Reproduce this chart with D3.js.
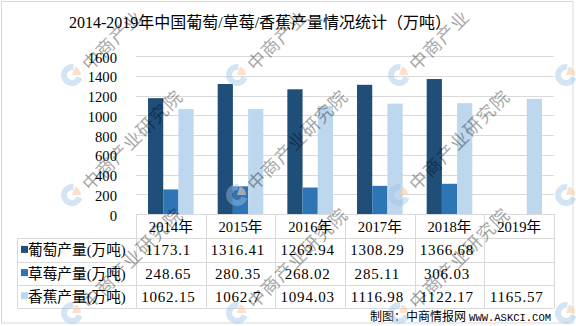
<!DOCTYPE html>
<html>
<head>
<meta charset="utf-8">
<script src="https://cdn.jsdelivr.net/npm/d3@7/dist/d3.min.js"></script>
<style>
  html, body { margin: 0; padding: 0; background: #fff; }
  svg { display: block; }
  text { font-family: "Liberation Serif", "Noto Sans CJK SC", serif; fill: #000; }
</style>
</head>
<body>
<svg id="chart" width="576" height="326"></svg>
<script>
// Production data, 10k tonnes
const years = ["2014年", "2015年", "2016年", "2017年", "2018年", "2019年"];
const seriesNames = ["葡萄产量(万吨)", "草莓产量(万吨)", "香蕉产量(万吨)"];
const grapeValues = [1173.1, 1316.41, 1262.94, 1308.29, 1366.68, null];
const strawberryValues = [248.65, 280.35, 268.02, 285.11, 306.03, null];
const bananaValues = [1062.15, 1062.7, 1094.03, 1116.98, 1122.17, 1165.57];
const grapeLabels = ["1173.1", "1316.41", "1262.94", "1308.29", "1366.68", ""];
const strawberryLabels = ["248.65", "280.35", "268.02", "285.11", "306.03", ""];
const bananaLabels = ["1062.15", "1062.7", "1094.03", "1116.98", "1122.17", "1165.57"];
const yTicks = [0, 200, 400, 600, 800, 1000, 1200, 1400, 1600];
const colors = ["#1f4e79", "#2e75b6", "#bdd7ee"];

const seriesValues = [grapeValues, strawberryValues, bananaValues];
const seriesLabels = [grapeLabels, strawberryLabels, bananaLabels];

const W = 576, H = 326;
const svg = d3.select("#chart");
const plotLeft = 136, plotRight = 554, plotTop = 56, plotBottom = 214;
const tableLeft = 17, rowH = 23.2;
const headerBottom = 238.3;

// outer frame
svg.append("rect").attr("x", 1.5).attr("y", 1.5).attr("width", 571.5).attr("height", 321.5)
  .attr("fill", "#fff").attr("stroke", "#d9d9d9");

// title
svg.append("text").attr("x", 260).attr("y", 28).attr("text-anchor", "middle")
  .style("font-size", "16px").text("2014-2019年中国葡萄/草莓/香蕉产量情况统计（万吨）");

const x0 = d3.scaleBand().domain(years).range([plotLeft, plotRight]).padding(0);
const x1 = d3.scaleBand().domain(d3.range(3)).range([0, x0.bandwidth()])
  .paddingInner(0).paddingOuter(0.79);
const y = d3.scaleLinear().domain([0, 1600]).range([plotBottom, plotTop]);

// gridlines
svg.append("g").selectAll("line").data(yTicks.filter(d => d > 0)).join("line")
  .attr("x1", plotLeft).attr("x2", plotRight)
  .attr("y1", d => Math.round(y(d)) + 0.5).attr("y2", d => Math.round(y(d)) + 0.5)
  .attr("stroke", "#d9d9d9");

// y axis labels
const yAxis = d3.axisLeft(y).tickValues(yTicks).tickSize(0).tickPadding(0).tickFormat(d3.format("d"));
const yg = svg.append("g").attr("transform", `translate(117,1.5)`).call(yAxis);
yg.select(".domain").remove();
yg.selectAll("text").style("font-size", "14.67px").style("font-family", "\"Liberation Serif\", serif").attr("fill", "#000");

// bars
const groups = svg.append("g").selectAll("g").data(years).join("g")
  .attr("transform", d => `translate(${x0(d)},0)`);
groups.selectAll("rect")
  .data((yr, i) => seriesValues.map((vals, s) => ({ s, v: vals[i] })).filter(d => d.v != null))
  .join("rect")
  .attr("x", d => x1(d.s)).attr("width", x1.bandwidth())
  .attr("y", d => y(d.v)).attr("height", d => y(0) - y(d.v))
  .attr("fill", d => colors[d.s]);

// data table
const tg = svg.append("g");
const line = (xa, ya, xb, yb) => tg.append("line")
  .attr("x1", xa).attr("y1", ya).attr("x2", xb).attr("y2", yb).attr("stroke", "#d9d9d9");
const tableBottom = headerBottom + rowH * 3;
line(plotLeft, plotBottom + 0.5, plotRight, plotBottom + 0.5);
for (let r = 0; r <= 3; r++) {
  const yy = Math.round(headerBottom + r * rowH) + 0.5;
  line(tableLeft, yy, plotRight, yy);
}
line(tableLeft + 0.5, headerBottom, tableLeft + 0.5, tableBottom);
years.forEach(yr => {
  const xx = Math.round(x0(yr)) + 0.5;
  line(xx, plotBottom, xx, tableBottom);
});
line(plotRight + 0.5, plotBottom, plotRight + 0.5, tableBottom);

// header: years
tg.selectAll("text.year").data(years).join("text").attr("class", "year")
  .attr("x", d => x0(d) + x0.bandwidth() / 2).attr("y", 231.5)
  .attr("text-anchor", "middle").style("font-size", "14.67px").text(d => d);

// row labels with colour keys, then the values
seriesNames.forEach((name, s) => {
  const cy = headerBottom + rowH * s + rowH / 2;
  tg.append("rect").attr("x", 21).attr("y", cy - 4).attr("width", 7).attr("height", 7)
    .attr("fill", colors[s]);
  tg.append("text").attr("x", 28).attr("y", cy + 5.5).style("font-size", "14.67px").text(name);
  tg.selectAll(null).data(seriesLabels[s]).join("text")
    .attr("x", (d, i) => x0(years[i]) + x0.bandwidth() / 2 - 2.5)
    .attr("y", cy + 5.5).attr("text-anchor", "middle")
    .style("font-size", "15px").style("letter-spacing", "0.8px").text(d => d);
});

// footer credit
const foot = svg.append("text").attr("x", 551).attr("y", 320.5).attr("text-anchor", "end")
  .style("font-size", "12px");
foot.append("tspan").text("制图：中商情报网 ");
foot.append("tspan").style("font-family", "\"Liberation Mono\", monospace").style("font-size", "10.5px")
  .text("WWW.ASKCI.COM");

// watermark: logo plus diagonal name, characters kept inside the canvas
const wm = svg.append("g").attr("pointer-events", "none");
const wmX = [-93, 72, 237, 399, 566];
const wmY = [75, 195, 313];
const wmChars = Array.from("中商产业研究院");
const step = 19 / Math.SQRT2;
const blueArc = d3.arc().innerRadius(5).outerRadius(11).startAngle(Math.PI * 0.6).endAngle(Math.PI * 2.05);
const orangeArc = d3.arc().innerRadius(0).outerRadius(9).startAngle(Math.PI * 0.1).endAngle(Math.PI * 0.5);
wmY.forEach(py => wmX.forEach(px => {
  if (px > -10 && px < W + 10) {
    const g = wm.append("g").attr("transform", `translate(${px},${py})`);
    g.append("path").attr("d", blueArc()).attr("fill", "#9dc3e6").attr("opacity", 0.45);
    g.append("path").attr("d", orangeArc()).attr("fill", "#f8cbad").attr("opacity", 0.6);
  }
  wmChars.forEach((ch, k) => {
    const cx = px + 20 + k * step, cyy = py - 14 - k * step;
    if (cx < 8 || cx > W - 8 || cyy < 8 || cyy > H - 8) return;
    wm.append("text").attr("transform", `translate(${cx},${cyy}) rotate(-45)`)
      .attr("text-anchor", "middle").attr("dy", "0.35em")
      .style("font-size", "18px").style("font-family", "\"Noto Sans CJK SC\", sans-serif")
      .attr("fill", "#9dc3e6").attr("opacity", 0.35).text(ch);
  });
}));
</script>
</body>
</html>
